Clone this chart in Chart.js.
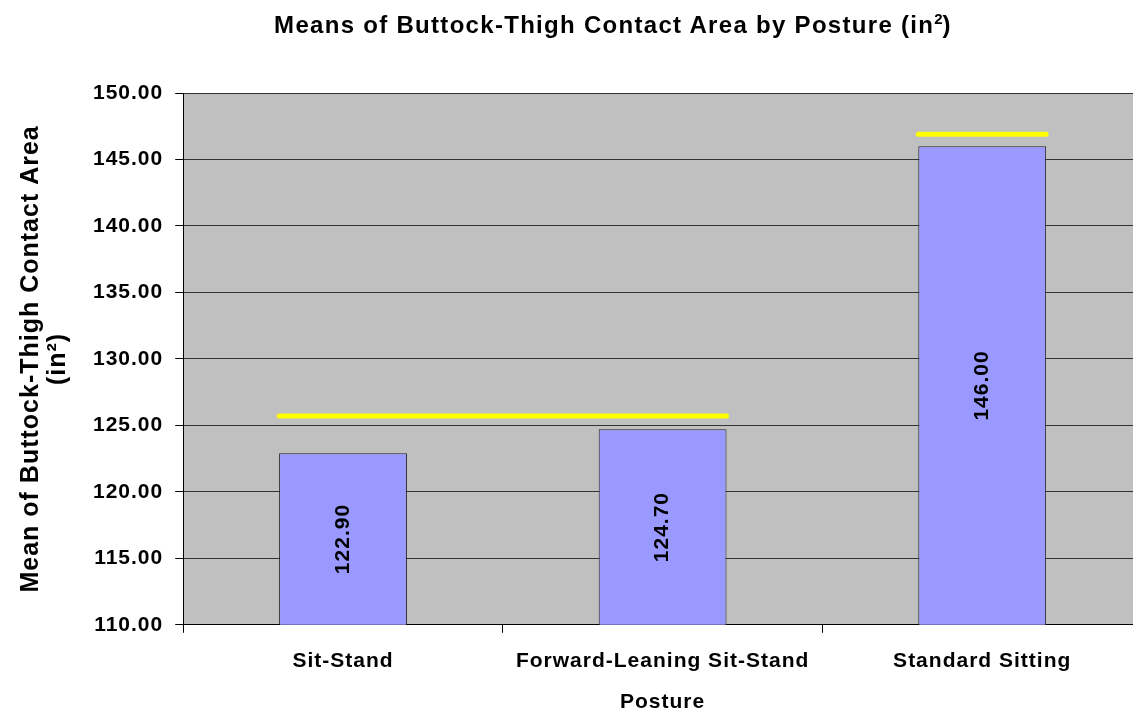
<!DOCTYPE html>
<html lang="en">
<head>
  <meta charset="UTF-8">
  <title>Means of Buttock-Thigh Contact Area by Posture</title>
  <script src="https://cdn.jsdelivr.net/npm/chart.js"></script>
  <style>
    html, body {
      margin: 0;
      padding: 0;
      background: #fff;
      overflow: hidden;
    }
    #wrap {
      position: relative;
      width: 1142px;
      height: 713px;
    }
    #title {
      position: absolute;
      top: 10px;
      left: 0;
      width: 1226px;
      text-align: center;
      font-family: Arial, "Liberation Sans", sans-serif;
      font-weight: bold;
      font-size: 24px;
      letter-spacing: 1.3px;
      color: #000;
    }
    #title sup {
      font-size: 15px;
      letter-spacing: 0;
    }
  </style>
</head>
<body>
  <div id="wrap">
    <div id="title">Means of Buttock-Thigh Contact Area by Posture (in<sup>2</sup>)</div>
    <canvas id="chart" width="1142" height="713"></canvas>
  </div>

  <script>
    const postures = ["Sit-Stand", "Forward-Leaning Sit-Stand", "Standard Sitting"];
    const means = [122.90, 124.70, 146.00];

    // yellow bars over groups that don't differ
    const sigStart = [0, 2];
    const sigEnd = [1, 2];
    const sigLevel = [125.7, 146.9];

    const FONT = "Arial, 'Liberation Sans', sans-serif";

    // old excel-ish text is a bit spaced out
    const spacing = {
      id: 'spacing',
      beforeLayout(chart) { chart.ctx.letterSpacing = '1px'; },
      beforeDraw(chart) { chart.ctx.letterSpacing = '1px'; }
    };

    const plotBg = {
      id: 'plotBg',
      beforeDraw(chart) {
        const { ctx, chartArea: a } = chart;
        ctx.save();
        ctx.fillStyle = '#C0C0C0';
        ctx.fillRect(a.left, a.top, a.right - a.left, a.bottom - a.top);
        ctx.strokeStyle = '#808080';
        ctx.lineWidth = 1;
        ctx.beginPath();
        ctx.moveTo(a.left, a.top + 0.5);
        ctx.lineTo(a.right, a.top + 0.5);
        ctx.stroke();
        ctx.restore();
      }
    };

    const barLabels = {
      id: 'barLabels',
      afterDatasetsDraw(chart) {
        const { ctx } = chart;
        const meta = chart.getDatasetMeta(0);
        const y = chart.scales.y;
        const base = y.getPixelForValue(y.min);
        ctx.save();
        ctx.fillStyle = '#000';
        ctx.font = 'bold 21px ' + FONT;
        ctx.textAlign = 'center';
        ctx.textBaseline = 'middle';
        meta.data.forEach((bar, i) => {
          const top = y.getPixelForValue(means[i]);
          const cy = (top + base) / 2;
          ctx.save();
          ctx.translate(bar.x, cy);
          ctx.rotate(-Math.PI / 2);
          ctx.fillText(means[i].toFixed(2), 0, 0);
          ctx.restore();
        });
        ctx.restore();
      }
    };

    const sigLines = {
      id: 'sigLines',
      afterDatasetsDraw(chart) {
        const { ctx } = chart;
        const meta = chart.getDatasetMeta(0);
        const y = chart.scales.y;
        ctx.save();
        ctx.strokeStyle = '#FFFF00';
        ctx.lineWidth = 5;
        ctx.lineCap = 'round';
        sigLevel.forEach((v, i) => {
          const b0 = meta.data[sigStart[i]];
          const b1 = meta.data[sigEnd[i]];
          const py = y.getPixelForValue(v);
          ctx.beginPath();
          ctx.moveTo(b0.x - b0.width / 2, py);
          ctx.lineTo(b1.x + b1.width / 2, py);
          ctx.stroke();
        });
        ctx.restore();
      }
    };

    new Chart(document.getElementById('chart'), {
      type: 'bar',
      data: {
        labels: postures,
        datasets: [{
          data: means,
          backgroundColor: '#9999FF',
          borderColor: '#222',
          borderWidth: 1,
          barPercentage: 0.4,
          categoryPercentage: 1.0
        }]
      },
      options: {
        responsive: false,
        animation: false,
        layout: { padding: { top: 93, right: 0, left: 0, bottom: 0 } },
        plugins: {
          legend: { display: false },
          tooltip: { enabled: false }
        },
        scales: {
          x: {
            grid: {
              drawOnChartArea: false,
              drawTicks: true,
              tickLength: 8,
              color: '#000'
            },
            border: { color: '#000' },
            ticks: {
              color: '#000',
              font: { family: FONT, size: 21, weight: 'bold' },
              padding: 16,
              maxRotation: 0
            },
            title: {
              display: true,
              text: 'Posture',
              color: '#000',
              font: { family: FONT, size: 21, weight: 'bold', lineHeight: 1.0 },
              padding: { top: 2, bottom: 0 }
            }
          },
          y: {
            min: 110,
            max: 150,
            grid: {
              color: '#333',
              tickLength: 8,
              tickColor: '#000'
            },
            border: { color: '#000' },
            ticks: {
              stepSize: 5,
              color: '#000',
              padding: 12,
              font: { family: FONT, size: 21, weight: 'bold' },
              callback: v => v.toFixed(2)
            },
            title: {
              display: true,
              text: ['Mean of Buttock-Thigh Contact Area', '(in\u00B2)'],
              color: '#000',
              font: { family: FONT, size: 25, weight: 'bold', lineHeight: 1.1 },
              padding: { top: 17, bottom: 9 }
            }
          }
        }
      },
      plugins: [spacing, plotBg, barLabels, sigLines]
    });
  </script>
</body>
</html>
